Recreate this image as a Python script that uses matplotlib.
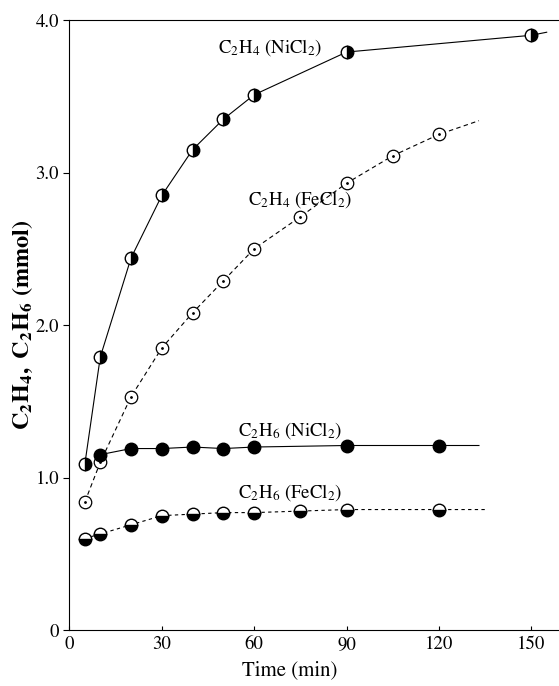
import numpy as np
import matplotlib
matplotlib.use('Agg')
import matplotlib.pyplot as plt

plt.rcParams['font.family'] = 'STIXGeneral'
plt.rcParams['mathtext.fontset'] = 'stix'

# C2H4 with NiCl2
t_c2h4_ni = [5, 10, 20, 30, 40, 50, 60, 90, 150]
c2h4_ni = [1.09, 1.79, 2.44, 2.85, 3.15, 3.35, 3.51, 3.79, 3.90]
# C2H4 with FeCl2
t_c2h4_fe = [5, 10, 20, 30, 40, 50, 60, 75, 90, 105, 120]
c2h4_fe = [0.84, 1.10, 1.53, 1.85, 2.08, 2.29, 2.50, 2.71, 2.93, 3.11, 3.25]
# C2H6 with NiCl2
t_c2h6_ni = [10, 20, 30, 40, 50, 60, 90, 120]
c2h6_ni = [1.15, 1.19, 1.19, 1.20, 1.19, 1.20, 1.21, 1.21]
# C2H6 with FeCl2
t_c2h6_fe = [5, 10, 20, 30, 40, 50, 60, 75, 90, 120]
c2h6_fe = [0.60, 0.63, 0.69, 0.75, 0.76, 0.77, 0.77, 0.78, 0.79, 0.79]

# where the drawn curves end past the last point
end_c2h4_ni = (155, 3.92)
end_c2h4_fe = (133, 3.34)
end_c2h6_ni = (133, 1.21)
end_c2h6_fe = (135, 0.79)

xticks = [0, 30, 60, 90, 120, 150]
yticks = [0, 1.0, 2.0, 3.0, 4.0]
ytick_labels = ['0', '1.0', '2.0', '3.0', '4.0']

fig = plt.figure(figsize=(5.59, 6.86), dpi=100)
ax = fig.add_axes([0.1243, 0.0816, 0.8757, 0.8892])

def curve(t, v, end):
    return np.append(t, end[0]), np.append(v, end[1])

lw = 0.8
ms = 9

x, y = curve(t_c2h4_ni, c2h4_ni, end_c2h4_ni)
ax.plot(x, y, '-', color='black', lw=lw)
ax.plot(t_c2h4_ni, c2h4_ni, 'o', ls='none', ms=ms, fillstyle='right',
        markerfacecolor='black', markerfacecoloralt='white', markeredgecolor='black', mew=1)

x, y = curve(t_c2h4_fe, c2h4_fe, end_c2h4_fe)
ax.plot(x, y, '--', color='black', lw=lw, dashes=(4, 3))
ax.plot(t_c2h4_fe, c2h4_fe, 'o', ls='none', ms=ms, markerfacecolor='white',
        markeredgecolor='black', mew=0.9)
ax.plot(t_c2h4_fe, c2h4_fe, '.', ls='none', ms=2, color='black')

x, y = curve(t_c2h6_ni, c2h6_ni, end_c2h6_ni)
ax.plot(x, y, '-', color='black', lw=lw)
ax.plot(t_c2h6_ni, c2h6_ni, 'o', ls='none', ms=ms, color='black')

x, y = curve(t_c2h6_fe, c2h6_fe, end_c2h6_fe)
ax.plot(x, y, '--', color='black', lw=lw, dashes=(3, 3))
ax.plot(t_c2h6_fe, c2h6_fe, 'o', ls='none', ms=ms, fillstyle='bottom',
        markerfacecolor='black', markerfacecoloralt='white', markeredgecolor='black', mew=1)

fs = 13.5
ax.text(48.2, 3.82, r'C$_2$H$_4$ (NiCl$_2$)', fontsize=fs, va='center')
ax.text(58, 2.82, r'C$_2$H$_4$ (FeCl$_2$)', fontsize=fs, va='center')
ax.text(54.7, 1.31, r'C$_2$H$_6$ (NiCl$_2$)', fontsize=fs, va='center')
ax.text(54.7, 0.90, r'C$_2$H$_6$ (FeCl$_2$)', fontsize=fs, va='center')

ax.set_xlim(0, 159)
ax.set_ylim(0, 4.0)
ax.set_xticks(xticks)
ax.set_yticks(yticks)
ax.set_yticklabels(ytick_labels)
ax.tick_params(axis='x', direction='in', length=3, labelsize=13.5, pad=4)
ax.tick_params(axis='y', direction='out', length=4, labelsize=13.5)
ax.spines['right'].set_visible(False)

ax.set_xlabel('Time (min)', fontsize=15)
ax.xaxis.set_label_coords(0.45, -0.05)
ax.set_ylabel(r'$\mathbf{C_2H_4,\ C_2H_6}$ (mmol)', fontsize=17.5, fontweight='bold')
ax.yaxis.set_label_coords(-0.07, 0.5)

fig.savefig('out.png', dpi=100)
